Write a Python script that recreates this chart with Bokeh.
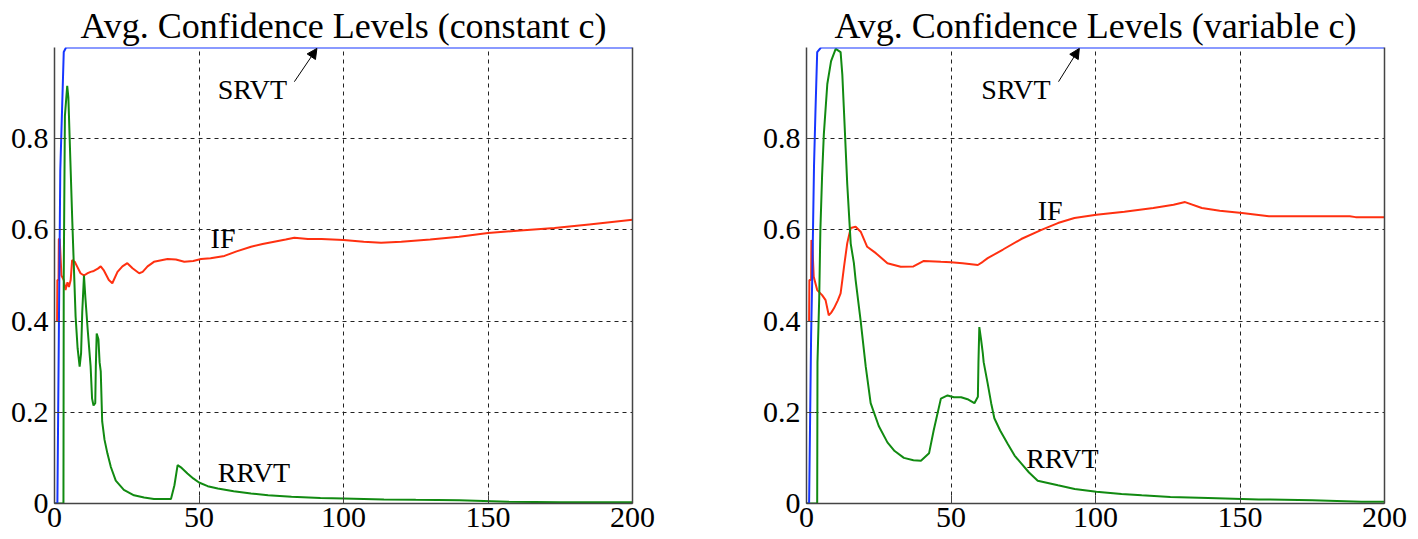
from bokeh.plotting import figure
from bokeh.models import (Range1d, FixedTicker, LinearAxis, Arrow, NormalHead, Title, ColumnDataSource)
from bokeh.layouts import row
from bokeh.core.properties import value
from bokeh.embed import file_html
from bokeh.resources import INLINE

# ---------------- data ----------------
titles = ["Avg. Confidence Levels (constant c)", "Avg. Confidence Levels (variable c)"]
x_ticks = [0, 50, 100, 150, 200]
x_tick_labels = ["0", "50", "100", "150", "200"]
y_ticks = [0, 0.2, 0.4, 0.6, 0.8]
y_tick_labels = ["0", "0.2", "0.4", "0.6", "0.8"]

# constant c
srvt_c_x = [0, 1.0, 1.5, 2.0, 2.6, 3.2, 4.0, 200]
srvt_c_y = [0, 0, 0.37, 0.73, 0.86, 0.99, 1.0, 1.0]

if_c_x = [0.9, 1.0, 1.4, 1.5, 1.8, 2.4, 3.2, 3.8, 4.5, 5.0, 5.6, 6.1, 7.0, 7.9, 9, 10.2, 11.5, 12.5, 13.6, 15, 16, 17,
          18.8, 20, 21.8, 23.5, 25.2, 27, 29.3, 30.5, 32.2, 34.4, 39.1, 42, 44.9, 48, 50.7, 54, 58.8, 63, 68, 72, 76,
          80, 83, 87.7, 92.4, 100, 107, 113, 120, 130, 140, 150, 160, 173, 185, 200]
if_c_y = [0.40, 0.49, 0.49, 0.58, 0.58, 0.50, 0.49, 0.468, 0.485, 0.475, 0.49, 0.534, 0.53, 0.519, 0.505, 0.50, 0.505,
          0.508, 0.51, 0.515, 0.52, 0.512, 0.49, 0.483, 0.508, 0.52, 0.527, 0.516, 0.505, 0.508, 0.52, 0.53, 0.536,
          0.535, 0.53, 0.532, 0.536, 0.538, 0.543, 0.553, 0.563, 0.569, 0.574, 0.579, 0.583, 0.58, 0.58, 0.578,
          0.574, 0.572, 0.574, 0.579, 0.585, 0.593, 0.598, 0.604, 0.612, 0.622]

rrvt_c_x = [0, 3.1, 3.2, 3.6, 4.4, 4.8, 5.0, 5.5, 6.1, 6.7, 7.3, 8.0, 8.7, 9.2, 9.6, 10.2, 10.7, 11.5, 12.5, 13.0,
            13.5, 14.1, 14.3, 14.6, 15.2, 15.6, 16, 16.5, 17.3, 18.3, 19.5, 21.2, 24, 27.5, 31, 34.4, 40.3, 41.5,
            42.6, 44, 46, 48, 50, 53, 56.5, 62, 68, 73.9, 82, 92, 100, 114, 125, 140, 157, 175, 200]
rrvt_c_y = [0, 0, 0.5, 0.85, 0.916, 0.89, 0.85, 0.75, 0.63, 0.52, 0.41, 0.34, 0.30, 0.33, 0.42, 0.50, 0.45, 0.38,
            0.30, 0.23, 0.215, 0.22, 0.30, 0.373, 0.36, 0.31, 0.29, 0.18, 0.14, 0.11, 0.08, 0.05, 0.03, 0.018,
            0.013, 0.01, 0.01, 0.04, 0.084, 0.078, 0.066, 0.055, 0.046, 0.038, 0.033, 0.027, 0.022, 0.018, 0.015,
            0.012, 0.011, 0.009, 0.008, 0.007, 0.004, 0.003, 0.003]

# variable c
srvt_v_x = [0, 0.9, 1.6, 2.0, 2.6, 3.1, 3.7, 5, 200]
srvt_v_y = [0, 0, 0.37, 0.5, 0.74, 0.86, 0.99, 1.0, 1.0]

if_v_x = [0.9, 1.0, 1.6, 1.7, 2.0, 2.5, 3.7, 5.4, 6.6, 7.7, 8.5, 9.5, 10.8, 11.8, 12.4, 13, 14.1, 15.3, 17, 18.75,
          21, 24, 28, 32.6, 37, 40.6, 46.5, 50, 54, 59.3, 61, 62.7, 68, 74.3, 81.3, 87, 92.7, 100.3, 110, 120, 127,
          131, 136.8, 143, 150.7, 160, 188, 190, 200]
if_v_y = [0.40, 0.49, 0.49, 0.578, 0.57, 0.497, 0.468, 0.457, 0.446, 0.413, 0.418, 0.428, 0.445, 0.461, 0.49, 0.52,
          0.571, 0.604, 0.607, 0.596, 0.563, 0.549, 0.527, 0.519, 0.52, 0.532, 0.53, 0.529, 0.527, 0.523, 0.53,
          0.538, 0.557, 0.58, 0.60, 0.615, 0.626, 0.633, 0.64, 0.648, 0.655, 0.661, 0.648, 0.642, 0.637, 0.63,
          0.63, 0.628, 0.628]

rrvt_v_x = [0, 3.7, 3.8, 4.4, 4.8, 5.4, 6.0, 7.2, 8.5, 10.1, 11.8, 12.4, 12.9, 14.1, 15.3, 16.4, 17, 18.75, 20.5,
            22.2, 25, 28, 30.5, 33.7, 37, 39.6, 42.4, 44, 46.5, 48.8, 51, 53.5, 56, 58.1, 59.3, 59.5, 59.8, 60.4,
            61.0, 61.3, 62.7, 63.9, 65, 67, 69.7, 72, 74.3, 77, 80, 87, 92.8, 100.3, 109, 116, 125.9, 139, 156.5,
            175, 192, 200]
rrvt_v_y = [0, 0, 0.31, 0.45, 0.6, 0.72, 0.81, 0.92, 0.97, 0.997, 0.99, 0.94, 0.87, 0.70, 0.57, 0.527, 0.49, 0.40,
            0.30, 0.22, 0.17, 0.134, 0.115, 0.10, 0.095, 0.094, 0.11, 0.16, 0.23, 0.237, 0.233, 0.233, 0.228, 0.22,
            0.234, 0.31, 0.387, 0.36, 0.33, 0.31, 0.263, 0.22, 0.187, 0.16, 0.13, 0.105, 0.088, 0.068, 0.05, 0.04,
            0.032, 0.026, 0.021, 0.018, 0.014, 0.012, 0.009, 0.007, 0.004, 0.004]

# ---------------- styling ----------------
SERIF = "Liberation Serif"
RED = "#ff3010"
GREEN = "#118a11"
BLUE = "#1636ff"
AXIS = "#444444"

panels = [
    dict(title=titles[0], srvt=(srvt_c_x, srvt_c_y), iff=(if_c_x, if_c_y), rrvt=(rrvt_c_x, rrvt_c_y),
         srvt_lbl=(56.5, 0.908), arrow=(83.0, 0.925, 90.8, 0.998), if_lbl=(54.0, 0.582), rrvt_lbl=(56.5, 0.068),
         mb_left=54, mb_right=77),
    dict(title=titles[1], srvt=(srvt_v_x, srvt_v_y), iff=(if_v_x, if_v_y), rrvt=(rrvt_v_x, rrvt_v_y),
         srvt_lbl=(60.5, 0.908), arrow=(87.2, 0.925, 94.4, 0.998), if_lbl=(80.0, 0.643), rrvt_lbl=(76.0, 0.099),
         mb_left=97, mb_right=34),
]

figs = []
for pd in panels:
    p = figure(width=709, height=539, output_backend="svg", toolbar_location=None,
               x_range=Range1d(0, 200), y_range=Range1d(0, 1.0),
               min_border_left=pd["mb_left"], min_border_right=pd["mb_right"],
               min_border_top=47, min_border_bottom=36)
    p.title = Title(text=pd["title"], text_font=SERIF, text_font_size="36px", text_font_style="normal",
                    align="center", text_color="black", standoff=4, offset=0)
    p.outline_line_color = None
    p.background_fill_color = "white"
    p.border_fill_color = "white"

    for ax, ticks, labels in ((p.xaxis[0], x_ticks, x_tick_labels), (p.yaxis[0], y_ticks, y_tick_labels)):
        ax.ticker = FixedTicker(ticks=ticks)
        ax.major_label_overrides = {t: l for t, l in zip(ticks, labels)}
        ax.major_label_text_font = SERIF
        ax.major_label_text_font_size = "30px"
        ax.major_label_text_color = "black"
        ax.axis_line_color = AXIS
        ax.axis_line_width = 1.5
        ax.major_tick_in = 8
        ax.major_tick_out = 0
        ax.major_tick_line_color = AXIS
        ax.minor_tick_line_color = None
    p.xaxis.major_label_standoff = 4
    p.yaxis.major_label_standoff = 6

    rax = LinearAxis(ticker=FixedTicker(ticks=[]), major_label_standoff=0, major_tick_in=0, major_tick_out=0,
                     minor_tick_line_color=None, axis_line_color=AXIS, axis_line_width=1.5)
    p.add_layout(rax, "right")

    for g in (p.xgrid[0], p.ygrid[0]):
        g.grid_line_color = "#222222"
        g.grid_line_dash = "4 4"
        g.grid_line_width = 1
    p.xgrid.ticker = FixedTicker(ticks=[50, 100, 150])
    p.ygrid.ticker = FixedTicker(ticks=[0.2, 0.4, 0.6, 0.8])

    p.line(pd["iff"][0], pd["iff"][1], line_color=RED, line_width=2)
    p.line(pd["rrvt"][0], pd["rrvt"][1], line_color=GREEN, line_width=2)
    p.line(pd["srvt"][0], pd["srvt"][1], line_color=BLUE, line_width=2)

    lbl_src = ColumnDataSource(dict(
        x=[pd["srvt_lbl"][0], pd["if_lbl"][0], pd["rrvt_lbl"][0]],
        y=[pd["srvt_lbl"][1], pd["if_lbl"][1], pd["rrvt_lbl"][1]],
        t=["SRVT", "IF", "RRVT"]))
    p.text(x="x", y="y", text="t", source=lbl_src, text_font=value(SERIF), text_font_size="28px",
           text_align="left", text_baseline="middle", text_color="black")

    ax0, ay0, ax1, ay1 = pd["arrow"]
    p.add_layout(Arrow(x_start=ax0, y_start=ay0, x_end=ax1, y_end=ay1, line_width=1, line_color="black",
                       end=NormalHead(size=10, fill_color="black", line_color="black")))
    figs.append(p)

layout = row(*figs)
open("out.html", "w").write(file_html(layout, INLINE))
